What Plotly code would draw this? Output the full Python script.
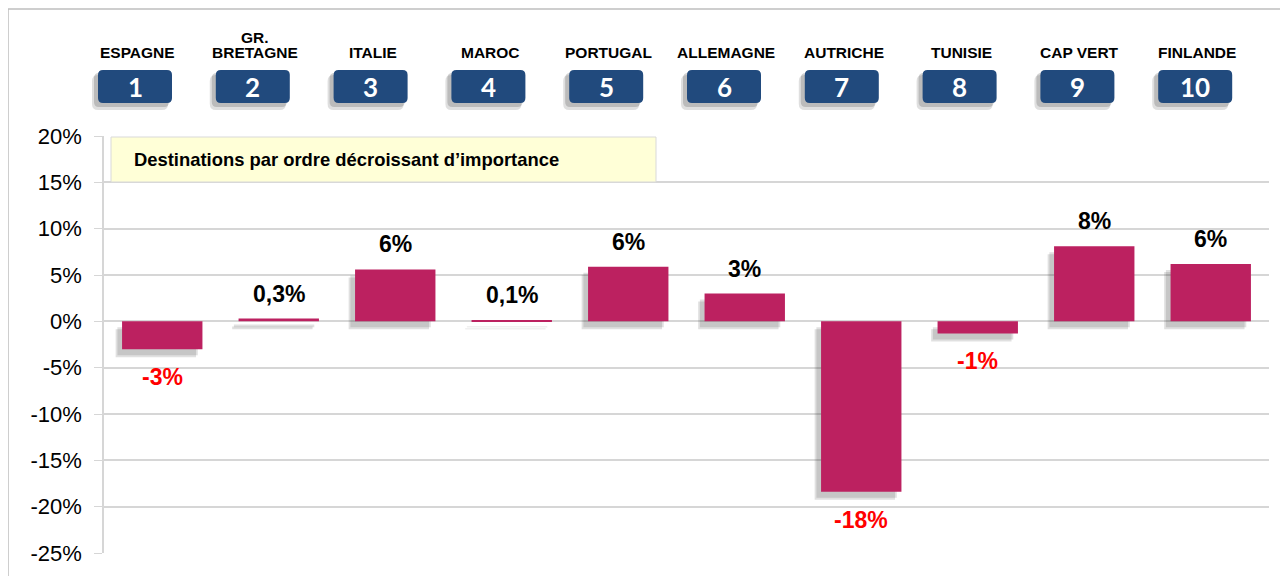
import plotly.graph_objects as go

countries = ["ESPAGNE", "GR.<br>BRETAGNE", "ITALIE", "MAROC", "PORTUGAL",
             "ALLEMAGNE", "AUTRICHE", "TUNISIE", "CAP VERT", "FINLANDE"]
ranks = ["1", "2", "3", "4", "5", "6", "7", "8", "9", "10"]
values = [-3.0, 0.3, 5.6, 0.1, 5.9, 3.0, -18.4, -1.3, 8.1, 6.2]
labels = ["-3%", "0,3%", "6%", "0,1%", "6%", "3%", "-18%", "-1%", "8%", "6%"]
yticks = [20, 15, 10, 5, 0, -5, -10, -15, -20, -25]
title_box = "Destinations par ordre décroissant d\u2019importance"

# page has an 8px body margin; screen coords below are converted
OFF = 8
W, H = 1280, 568
SL, SR, ST, SB = 104, 1269, 136, 553  # plot area in screen px
L, R, T, B = SL - OFF, SR - OFF, ST - OFF, SB - OFF


def px(x):
    return (x - SL) / (SR - SL)


def py(y):
    return (SB - y) / (SB - ST)


def rrect(x0, y0, x1, y1, r):
    rx = r / (SR - SL)
    ry = r / (SB - ST)
    a, b, c, d = px(x0), py(y0), px(x1), py(y1)
    return (f"M {a+rx},{b} L {c-rx},{b} Q {c},{b} {c},{b-ry} "
            f"L {c},{d+ry} Q {c},{d} {c-rx},{d} L {a+rx},{d} "
            f"Q {a},{d} {a},{d+ry} L {a},{b-ry} Q {a},{b} {a+rx},{b} Z")


x = list(range(len(values)))
bw = 0.69
unit = (SB - ST) / 45.0  # px per 1%

fig = go.Figure()
# soft shadow (two layers)
for dx, dy, a in [(0.055, 8, 0.16), (0.04, 6, 0.16)]:
    fig.add_trace(go.Bar(x=x, y=[abs(v) for v in values],
                         base=[min(0, v) - dy / unit for v in values], width=bw,
                         offset=-bw / 2 - dx,
                         marker=dict(color=f"rgba(60,60,60,{a})", line=dict(width=0)),
                         hoverinfo="skip", showlegend=False))
fig.add_trace(go.Bar(x=x, y=values, width=bw, offset=-bw / 2,
                     marker=dict(color="#BC2160", line=dict(width=0)),
                     showlegend=False))

annotations = []
for i, (v, lab) in enumerate(zip(values, labels)):
    pos = v >= 0
    annotations.append(dict(
        x=i, y=v, xref="x", yref="y", text=f"<b>{lab}</b>", showarrow=False,
        xanchor="center", yanchor="bottom" if pos else "top",
        yshift=10 if pos else -13,
        font=dict(family="Liberation Sans, Arial", size=23,
                  color="#000000" if pos else "#FF0000")))

shapes = []
# outer frame (left and top visible)
shapes.append(dict(type="rect", xref="paper", yref="paper",
                   x0=px(8), x1=px(1300), y0=py(9), y1=py(600),
                   line=dict(color="#BFBFBF", width=1.5), fillcolor="rgba(0,0,0,0)",
                   layer="below"))
for i, (c, rk) in enumerate(zip(countries, ranks)):
    cx = 135 + i * 117.8
    x0, x1 = cx - 37, cx + 37
    shapes.append(dict(type="path", xref="paper", yref="paper",
                       path=rrect(x0 - 6, 75, x1 - 4, 110, 6),
                       fillcolor="rgba(80,80,80,0.18)", line=dict(width=0)))
    shapes.append(dict(type="path", xref="paper", yref="paper",
                       path=rrect(x0 - 4, 73, x1 - 3, 107, 5),
                       fillcolor="rgba(80,80,80,0.25)", line=dict(width=0)))
    shapes.append(dict(type="path", xref="paper", yref="paper",
                       path=rrect(x0, 70, x1, 103, 5),
                       fillcolor="#214A7D", line=dict(width=0)))
    annotations.append(dict(x=px(cx), y=py(87), xref="paper", yref="paper",
                            xanchor="center", yanchor="middle",
                            text=f"<b>{rk}</b>", showarrow=False,
                            font=dict(family="Lato, Open Sans", size=26, color="white")))
    lines = c.split("<br>")
    for j, ln in enumerate(reversed(lines)):
        annotations.append(dict(x=px(cx + 2), y=py(52.5 - 15 * j), xref="paper", yref="paper",
                                xanchor="center", yanchor="middle",
                                text=f"<b>{ln}</b>", showarrow=False,
                                font=dict(family="Liberation Sans, Arial", size=15.5,
                                          color="#000000")))

# yellow title box
shapes.append(dict(type="rect", xref="paper", yref="paper",
                   x0=px(111), x1=px(656), y0=py(137), y1=py(182),
                   fillcolor="#FFFFD7", line=dict(color="#D9D9D9", width=1)))
annotations.append(dict(x=px(132), y=py(159.5), xref="paper", yref="paper",
                        xanchor="left", yanchor="middle",
                        text=f"<b>{title_box}</b>", showarrow=False,
                        font=dict(family="Liberation Sans, Arial", size=18.4, color="#000000")))

fig.update_layout(
    width=W, height=H,
    margin=dict(l=L, r=W - R, t=T, b=H - B, pad=0, autoexpand=False),
    paper_bgcolor="white", plot_bgcolor="white",
    barmode="overlay",
    shapes=shapes, annotations=annotations,
    xaxis=dict(range=[-0.5, 9.5], showticklabels=False, showgrid=False,
               zeroline=False, showline=False, fixedrange=True),
    yaxis=dict(range=[-25, 20], tickvals=yticks, ticktext=[f"{t}%" for t in yticks],
               showgrid=True, gridcolor="#D6D6D6", gridwidth=1.5, zeroline=False,
               showline=True, linecolor="#D6D6D6", linewidth=1.5, automargin=False,
               ticks="outside", ticklen=8, tickcolor="#D6D6D6",
               ticklabelstandoff=8,
               tickfont=dict(family="Liberation Sans, Arial", size=22, color="#000000")),
)

fig.write_html("out.html")
